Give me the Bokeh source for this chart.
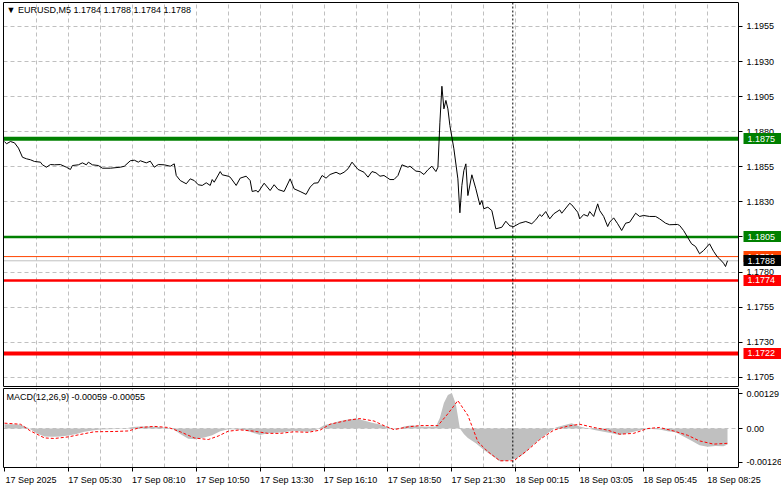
from bokeh.plotting import figure
from bokeh.models import (Range1d, FixedTicker, LinearAxis, Span, Label, PrintfTickFormatter,
                          Grid, BoxAnnotation)
from bokeh.layouts import column
from bokeh.embed import file_html
from bokeh.resources import INLINE

FONT = "Liberation Sans"
FS = "9px"
GRID = "#c0c0c0"

# ---------------- data ----------------
title_text = "\u25BC EURUSD,M5  1.1784 1.1788 1.1784 1.1788"
macd_text = "MACD(12,26,9) -0.00059 -0.00055"

x_tick_bars = [0, 32, 64, 96, 128, 160, 192, 224, 256, 288, 320, 352]
x_tick_labels = ["17 Sep 2025", "17 Sep 05:30", "17 Sep 08:10", "17 Sep 10:50",
                 "17 Sep 13:30", "17 Sep 16:10", "17 Sep 18:50", "17 Sep 21:30",
                 "18 Sep 00:15", "18 Sep 03:05", "18 Sep 05:45", "18 Sep 08:25"]
grid_x = [16, 32, 48, 64, 80, 96, 112, 128, 144, 160, 176, 192, 208, 224, 240,
          256, 272, 288, 304, 320, 336, 352]
day_separator = 254.5

price_ticks = [1.1705, 1.1730, 1.1755, 1.1780, 1.1805, 1.1830, 1.1855, 1.1880,
               1.1905, 1.1930, 1.1955]
macd_ticks = [-0.00126, 0.0, 0.00129]

price_bar = [0, 1, 3, 5, 7, 9, 11, 13, 15, 18, 19, 21, 23, 25, 28, 31, 33, 34, 37, 39,
             41, 42, 44, 47, 49, 53, 58, 60, 63, 65, 67, 68, 71, 73, 75, 77, 80, 83, 85, 86,
             88, 91, 93, 95, 97, 99, 101, 103, 104, 105, 108, 109, 112, 113, 116, 118, 121, 123, 124, 126,
             127, 130, 133, 135, 137, 140, 143, 145, 148, 151, 153, 155, 157, 159, 161, 163, 166, 168, 170, 172,
             174, 177, 180, 182, 184, 186, 188, 190, 193, 195, 197, 199, 202, 203, 206, 208, 210, 212, 214, 216,
             217, 218, 219, 220, 221, 222, 223, 225, 227, 228, 229, 230, 231, 232, 234, 236, 238, 239, 240, 242,
             244, 246, 249, 251, 253, 255, 258, 261, 264, 266, 268, 269, 271, 273, 275, 278, 279, 283, 284, 287,
             288, 290, 292, 293, 295, 297, 298, 300, 302, 303, 305, 307, 309, 311, 313, 316, 318, 320, 323, 326,
             328, 331, 333, 337, 338, 340, 342, 344, 346, 348, 350, 353, 355, 357, 358, 360, 361, 362]
price_close = [1.18730, 1.18714, 1.18730, 1.18721, 1.18683, 1.18618, 1.18607, 1.18600, 1.18588, 1.18583,
               1.18564, 1.18547, 1.18566, 1.18564, 1.18566, 1.18547, 1.18531, 1.18559, 1.18564, 1.18578,
               1.18564, 1.18583, 1.18564, 1.18559, 1.18540, 1.18540, 1.18547, 1.18554, 1.18593, 1.18597,
               1.18583, 1.18593, 1.18578, 1.18590, 1.18547, 1.18566, 1.18564, 1.18554, 1.18571, 1.18488,
               1.18452, 1.18429, 1.18464, 1.18452, 1.18422, 1.18417, 1.18436, 1.18417, 1.18459, 1.18440,
               1.18516, 1.18493, 1.18483, 1.18476, 1.18417, 1.18469, 1.18483, 1.18452, 1.18374, 1.18381,
               1.18369, 1.18433, 1.18381, 1.18422, 1.18388, 1.18374, 1.18464, 1.18393, 1.18374, 1.18353,
               1.18405, 1.18433, 1.18436, 1.18488, 1.18469, 1.18495, 1.18511, 1.18497, 1.18511, 1.18536,
               1.18583, 1.18531, 1.18511, 1.18476, 1.18516, 1.18507, 1.18483, 1.18488, 1.18459, 1.18459,
               1.18488, 1.18564, 1.18547, 1.18554, 1.18519, 1.18516, 1.18495, 1.18529, 1.18554, 1.18516,
               1.18547, 1.18868, 1.19124, 1.18963, 1.19023, 1.18963, 1.18844, 1.18678, 1.18464, 1.18222,
               1.18417, 1.18524, 1.18571, 1.18345, 1.18493, 1.18393, 1.18279, 1.18310, 1.18251, 1.18262,
               1.18238, 1.18108, 1.18119, 1.18162, 1.18129, 1.18124, 1.18148, 1.18160, 1.18144, 1.18172,
               1.18210, 1.18196, 1.18231, 1.18179, 1.18215, 1.18243, 1.18219, 1.18290, 1.18279, 1.18226,
               1.18179, 1.18210, 1.18198, 1.18231, 1.18196, 1.18286, 1.18238, 1.18196, 1.18124, 1.18155,
               1.18186, 1.18144, 1.18096, 1.18148, 1.18155, 1.18219, 1.18196, 1.18203, 1.18196, 1.18196,
               1.18179, 1.18148, 1.18137, 1.18139, 1.18132, 1.18096, 1.18048, 1.18001, 1.17982, 1.17930,
               1.17953, 1.18001, 1.17948, 1.17906, 1.17894, 1.17863, 1.17839, 1.17880]

hist_bar = [0, 4, 8, 12, 16, 20, 24, 28, 32, 36, 40, 44, 48, 52, 56, 60, 64, 68, 72, 76,
            80, 84, 88, 92, 96, 100, 104, 108, 112, 116, 120, 124, 128, 132, 136, 140, 144, 148, 152, 156,
            160, 164, 168, 172, 176, 180, 184, 188, 192, 196, 200, 204, 208, 212, 216, 218, 220, 222, 224, 226,
            228, 230, 232, 236, 240, 244, 248, 252, 256, 260, 264, 268, 272, 276, 280, 284, 288, 292, 296, 300,
            304, 308, 312, 316, 320, 324, 328, 332, 336, 340, 344, 348, 352, 356, 360, 362]
hist_val = [0.00016, 0.00016, 0.00014, 0.00002, -0.00018, -0.00030, -0.00031, -0.00030, -0.00026, -0.00020,
            -0.00012, -0.00007, -0.00004, -0.00003, -0.00002, -0.00001, 0.00006, 0.00008, 0.00008, 0.00007,
            0.00004, 0.00000, -0.00020, -0.00038, -0.00040, -0.00033, -0.00025, -0.00010, -0.00003, -0.00004,
            -0.00005, -0.00015, -0.00024, -0.00018, -0.00016, -0.00014, -0.00008, -0.00010, -0.00012, -0.00005,
            0.00012, 0.00020, 0.00028, 0.00034, 0.00037, 0.00030, 0.00022, 0.00015, 0.00005, -0.00004,
            0.00008, 0.00012, 0.00008, 0.00007, 0.00008, 0.00040, 0.00095, 0.00125, 0.00132, 0.00090,
            0.00000, -0.00020, -0.00035, -0.00055, -0.00080, -0.00100, -0.00122, -0.00120, -0.00112, -0.00095,
            -0.00065, -0.00040, -0.00018, 0.00004, 0.00012, 0.00020, 0.00008, 0.00000, -0.00006, -0.00012,
            -0.00018, -0.00024, -0.00018, -0.00010, -0.00004, -0.00002, -0.00004, -0.00010, -0.00014, -0.00030,
            -0.00045, -0.00062, -0.00068, -0.00065, -0.00066, -0.00059]

sig_bar = [0, 8, 13, 20, 25, 32, 38, 45, 55, 62, 68, 75, 82, 88, 95, 102, 107, 112, 118, 125,
           132, 138, 145, 152, 158, 163, 172, 178, 185, 189, 195, 202, 208, 217, 222, 227, 232, 237, 242, 248,
           255, 262, 268, 275, 282, 288, 295, 302, 308, 315, 322, 328, 335, 342, 348, 355, 362]
sig_val = [0.00020, 0.00016, -0.00009, -0.00035, -0.00037, -0.00031, -0.00022, -0.00012, -0.00011, -0.00009,
           0.00004, 0.00008, 0.00004, -0.00012, -0.00035, -0.00041, -0.00028, -0.00010, -0.00005, -0.00010,
           -0.00018, -0.00018, -0.00012, -0.00014, -0.00006, 0.00016, 0.00031, 0.00037, 0.00028, 0.00014,
           -0.00004, 0.00006, 0.00011, 0.00011, 0.00055, 0.00104, 0.00049, -0.00049, -0.00086, -0.00120,
           -0.00120, -0.00080, -0.00041, -0.00006, 0.00009, 0.00016, 0.00004, -0.00006, -0.00021, -0.00018,
           0.00000, 0.00004, -0.00009, -0.00025, -0.00046, -0.00058, -0.00055]

# horizontal levels
level_price = [1.1875, 1.1805, 1.1774, 1.1722]
level_color = ["#008000", "#008000", "#ff0000", "#ff0000"]
level_width = [4, 2.5, 2.5, 4]
ask_price, ask_color = 1.1791, "#ff4500"
bid_price, bid_color = 1.1788, "#c0c0c0"

# ---------------- layout constants ----------------
W = 781
BORDER_L = 3
PLOT_PX = 735           # width of the drawing area (left of the price scale)
X0, X1 = -0.5, 367.5    # bar range of the drawing area
PX_PER_BAR = PLOT_PX / (X1 - X0)
X_END = X0 + (W - BORDER_L) / PX_PER_BAR   # frame also covers the price-scale strip
LABEL_HALF_PX = 26.5
TAG_GAP_PX = 5
TAG_W = 40
TAG_H = 11

xr = Range1d(X0, X_END)


def base(height, yr, top, bottom):
    f = figure(width=W, height=height, x_range=xr, y_range=yr,
               output_backend="svg", toolbar_location=None,
               x_axis_type=None, y_axis_type=None,
               min_border_left=BORDER_L, min_border_right=0,
               min_border_top=top, min_border_bottom=bottom,
               background_fill_color="white", border_fill_color="white",
               outline_line_color=None)
    return f


def border_axis(f, side, bounds=None):
    ax = LinearAxis(ticker=FixedTicker(ticks=[]), axis_line_color="black",
                    major_tick_out=0, major_tick_in=0, minor_tick_out=0, minor_tick_in=0,
                    major_label_standoff=0)
    if bounds is not None:
        ax.bounds = bounds
    f.add_layout(ax, side)


def price_scale(f, ticks, fmt, overrides=None):
    ax = LinearAxis(fixed_location=X1, ticker=FixedTicker(ticks=ticks),
                    formatter=PrintfTickFormatter(format=fmt),
                    major_tick_out=4, major_tick_in=0, minor_tick_line_color=None,
                    axis_line_color="black", major_tick_line_color="black",
                    major_label_text_font=FONT, major_label_text_font_size=FS,
                    major_label_text_color="black", major_label_standoff=4)
    if overrides:
        ax.major_label_overrides = overrides
    f.add_layout(ax, "right")


def tag_axis(f, ticks, color):
    # price tags on the scale: a thick tick is the coloured box, the label sits on it
    ax = LinearAxis(fixed_location=X1 + TAG_GAP_PX / PX_PER_BAR,
                    ticker=FixedTicker(ticks=ticks), formatter=PrintfTickFormatter(format="%.4f"),
                    axis_line_color=None, minor_tick_line_color=None,
                    major_tick_in=0, major_tick_out=TAG_W, major_tick_line_width=TAG_H,
                    major_tick_line_color=color, major_tick_line_cap="butt",
                    major_label_text_font=FONT, major_label_text_font_size=FS,
                    major_label_text_color="white", major_label_standoff=-(TAG_W - 4))
    f.add_layout(ax, "right")


def grids(f, yticks):
    f.add_layout(Grid(dimension=0, ticker=FixedTicker(ticks=grid_x),
                      grid_line_color=GRID, grid_line_dash="4 3", grid_line_width=1))
    f.add_layout(Grid(dimension=1, ticker=FixedTicker(ticks=yticks),
                      grid_line_color=GRID, grid_line_dash="4 3", grid_line_width=1))
    f.add_layout(Span(location=day_separator, dimension="height", line_color="black",
                      line_dash="2 2", line_width=1))


def blank_scale_strip(f):
    f.add_layout(BoxAnnotation(left=X1, fill_color="white", fill_alpha=1.0,
                               line_color=None, level="underlay"))


# ---------------- main price panel ----------------
p = base(387, Range1d(1.16984, 1.19721), 2, 1)
grids(p, price_ticks)
for lp, lc, lw in zip(level_price, level_color, level_width):
    p.add_layout(Span(location=lp, dimension="width", line_color=lc, line_width=lw, level="underlay"))
p.add_layout(Span(location=ask_price, dimension="width", line_color=ask_color, line_width=1, level="underlay"))
p.add_layout(Span(location=bid_price, dimension="width", line_color=bid_color, line_width=1, level="underlay"))
blank_scale_strip(p)

p.line(price_bar, price_close, line_color="black", line_width=1)

border_axis(p, "left")
border_axis(p, "above", (X0, X1))
border_axis(p, "below", (X0, X1))
price_scale(p, price_ticks, "%.4f")
tag_axis(p, level_price[:2], level_color[0])
tag_axis(p, level_price[2:], level_color[2])
tag_axis(p, [ask_price], ask_color)
tag_axis(p, [bid_price], "black")

p.add_layout(Label(x=1, y=1.19669, text=title_text, text_font=FONT, text_font_size=FS,
                   text_color="black", text_baseline="middle"))

# ---------------- MACD panel ----------------
q = base(102, Range1d(-0.00145, 0.00149), 1, 22)
grids(q, [0.0])
blank_scale_strip(q)
q.varea(x=hist_bar, y1=0, y2=hist_val, fill_color="#c0c0c0")
q.line(sig_bar, sig_val, line_color="#ff0000", line_dash="3 2", line_width=1)
q.add_layout(Label(x=1, y=0.00116, text=macd_text, text_font=FONT, text_font_size=FS,
                   text_color="black", text_baseline="middle"))

border_axis(q, "left")
border_axis(q, "above", (X0, X1))
price_scale(q, macd_ticks, "%.5f", {0: "0.00"})

# time axis: MT4 labels start at their tick -> label anchors shifted right,
# the real tick marks are drawn as minor ticks
label_pos = [b + LABEL_HALF_PX / PX_PER_BAR for b in x_tick_bars]
xa = LinearAxis(ticker=FixedTicker(ticks=label_pos, minor_ticks=x_tick_bars),
                bounds=(X0, X1),
                major_label_overrides=dict(zip(label_pos, x_tick_labels)),
                major_tick_line_color=None, major_tick_out=0, major_tick_in=0,
                minor_tick_out=4, minor_tick_in=0, minor_tick_line_color="black",
                axis_line_color="black",
                major_label_text_font=FONT, major_label_text_font_size=FS,
                major_label_text_color="black", major_label_standoff=3)
q.add_layout(xa, "below")

layout = column(p, q)
open("out.html", "w").write(file_html(layout, INLINE))
